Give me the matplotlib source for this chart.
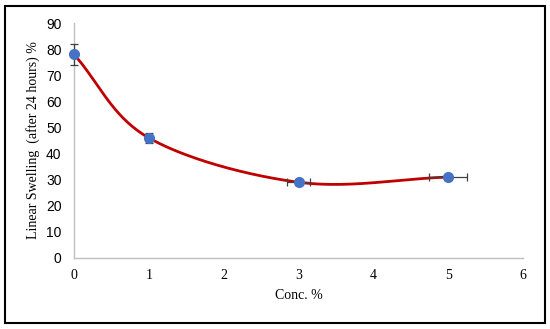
import numpy as np
import matplotlib
matplotlib.use("Agg")
import matplotlib.pyplot as plt
from matplotlib.patches import Rectangle

# data
conc = [0, 1, 3, 5]
swelling = [78, 46, 29, 31]
y_err = [4, 2, 1, 1]
x_err = [0, 0, 0.15, 0.25]

x_ticks = [0, 1, 2, 3, 4, 5, 6]
y_ticks = [0, 10, 20, 30, 40, 50, 60, 70, 80, 90]


def catmull_rom(xs, ys, n=60):
    # smooth curve through the points, like the spreadsheet "smoothed line"
    px = np.array(xs, dtype=float)
    py = np.array(ys, dtype=float)
    px = np.concatenate([[2 * px[0] - px[1]], px, [2 * px[-1] - px[-2]]])
    py = np.concatenate([[2 * py[0] - py[1]], py, [2 * py[-1] - py[-2]]])
    out_x, out_y = [], []
    t = np.linspace(0, 1, n)
    for i in range(1, len(px) - 2):
        for arr, out in ((px, out_x), (py, out_y)):
            p0, p1, p2, p3 = arr[i - 1], arr[i], arr[i + 1], arr[i + 2]
            out.extend(0.5 * ((2 * p1) + (-p0 + p2) * t
                              + (2 * p0 - 5 * p1 + 4 * p2 - p3) * t ** 2
                              + (-p0 + 3 * p1 - 3 * p2 + p3) * t ** 3))
    return np.array(out_x), np.array(out_y)


fig = plt.figure(figsize=(5.5, 3.29), dpi=100)
ax = fig.add_axes([0.1345, 0.216, 0.8165, 0.714])

sx, sy = catmull_rom(conc, swelling)
ax.plot(sx, sy, color="#C00000", lw=2, zorder=2)
eb = ax.errorbar(conc, swelling, yerr=y_err, xerr=x_err, fmt="none",
                 ecolor="#404040", elinewidth=0.9, capsize=3, capthick=0.9, zorder=3)
for art in eb.lines[1] + eb.lines[2]:
    art.set_clip_on(False)
ax.plot(conc, swelling, "o", color="#4472C4", markersize=7, zorder=4, clip_on=False)

ax.set_xlim(0, 6)
ax.set_ylim(0, 90)
ax.set_xticks(x_ticks)
ax.set_yticks(y_ticks)
ax.set_xticklabels([str(v) for v in x_ticks], family="Liberation Serif", fontsize=10)
ax.set_yticklabels([str(v) for v in y_ticks], family="Liberation Sans", fontsize=10)
ax.tick_params(length=0, pad=8)
ax.tick_params(axis="y", pad=9)

for s in ("top", "right"):
    ax.spines[s].set_visible(False)
for s in ("left", "bottom"):
    ax.spines[s].set_color("#BFBFBF")
    ax.spines[s].set_linewidth(1)

ax.set_xlabel("Conc. %", family="Liberation Serif", fontsize=10, labelpad=5)
ax.set_ylabel("Linear Swelling  (after 24 hours) %", family="Liberation Serif",
              fontsize=10, labelpad=4)

fig.patches.append(Rectangle((0.009, 0.018), 0.981, 0.965, transform=fig.transFigure,
                             fill=False, edgecolor="black", lw=1.5))

fig.savefig("out.png", dpi=100)
